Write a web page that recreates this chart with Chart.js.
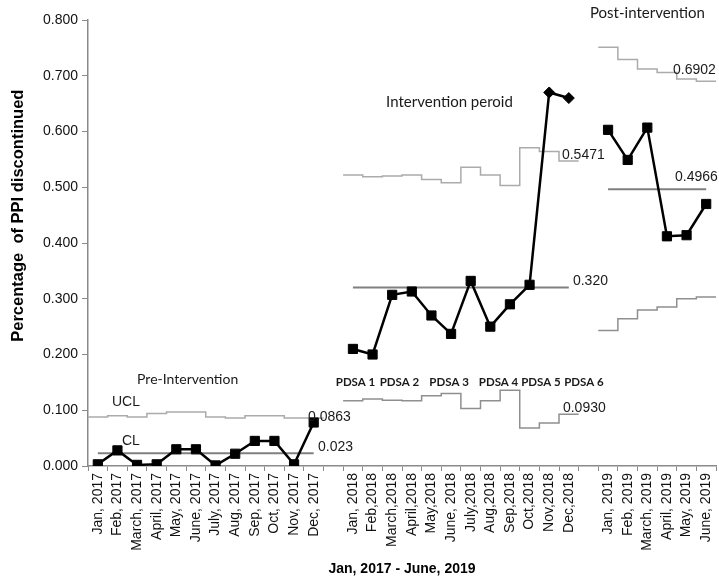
<!DOCTYPE html>
<html>
<head>
<meta charset="utf-8">
<script src="https://cdn.jsdelivr.net/npm/chart.js@4"></script>
<style>
  body { margin: 0; background: #fff; }
  #wrap { width: 719px; height: 583px; }
</style>
</head>
<body>
<div id="wrap"><canvas id="ppiChart" width="719" height="583"></canvas></div>
<script>
// categories
const months2017 = ['Jan, 2017', 'Feb, 2017', 'March, 2017', 'April, 2017', 'May, 2017', 'June, 2017',
  'July, 2017', 'Aug, 2017', 'Sep, 2017', 'Oct, 2017', 'Nov, 2017', 'Dec, 2017'];
const months2018 = ['Jan, 2018', 'Feb,2018', 'March,2018', 'April,2018', 'May,2018', 'June, 2018',
  'July,2018', 'Aug,2018', 'Sep,2018', 'Oct,2018', 'Nov,2018', 'Dec,2018'];
const months2019 = ['Jan, 2019', 'Feb, 2019', 'March, 2019', 'April, 2019', 'May, 2019', 'June, 2019'];

// proportion of PPI discontinued
const prePct = [0.003, 0.028, 0.002, 0.003, 0.030, 0.030, 0.001, 0.022, 0.045, 0.045, 0.003, 0.078];
const intPct = [0.210, 0.200, 0.307, 0.313, 0.270, 0.237, 0.332, 0.250, 0.290, 0.325, 0.670, 0.660];
const postPct = [0.603, 0.549, 0.607, 0.412, 0.414, 0.470];

// control limits
const preUCL = [0.088, 0.090, 0.088, 0.094, 0.097, 0.097, 0.088, 0.086, 0.090, 0.090, 0.086, 0.0863];
const intUCL = [0.522, 0.519, 0.520, 0.522, 0.514, 0.508, 0.536, 0.522, 0.503, 0.571, 0.564, 0.5471];
const intLCL = [0.117, 0.120, 0.118, 0.117, 0.126, 0.130, 0.103, 0.117, 0.136, 0.068, 0.077, 0.0930];
const postUCL = [0.751, 0.729, 0.712, 0.706, 0.694, 0.6902];
const postLCL = [0.243, 0.264, 0.280, 0.285, 0.300, 0.303];
const preCL = 0.023;
const intCL = 0.320;
const postCL = 0.4966;

const yTicks = [0, 0.1, 0.2, 0.3, 0.4, 0.5, 0.6, 0.7, 0.8];

const labels = [...months2017, '', ...months2018, '', ...months2019];
const intStart = months2017.length + 1;
const postStart = intStart + months2018.length + 1;

const pct = [...prePct, null, ...intPct, null, ...postPct];
const diamonds = ['Nov,2018', 'Dec,2018'];
const ptStyle = labels.map(l => diamonds.includes(l) ? 'rectRot' : 'rect');
const ptRadius = labels.map(l => diamonds.includes(l) ? 5.5 : 6.5);

function clLine(start, n, v) {
  return labels.map((_, i) => (i >= start && i < start + n) ? v : null);
}

// each limit value covers its whole month slot
function stepPoints(start, vals) {
  const pts = vals.map((v, k) => ({ x: start + k - 0.5, y: v }));
  pts.push({ x: start + vals.length - 0.5, y: vals[vals.length - 1] });
  return pts;
}

const sans = '"Liberation Sans", Arial, sans-serif';
const calib = 'Lato, "Open Sans", sans-serif';

const notes = [
  { t: 'Pre-Intervention', x: 2.0, y: 0.155, font: '14px ' + calib },
  { t: 'UCL', x: 0.72, y: 0.114, font: '14px ' + sans },
  { t: 'CL', x: 1.23, y: 0.044, font: '14px ' + sans },
  { t: '0.0863', x: 10.71, y: 0.087, font: '14px ' + sans },
  { t: '0.023', x: 11.22, y: 0.0335, font: '14px ' + sans },
  { t: 'PDSA 1', x: 13.13, y: 0.150, font: 'bold 11.5px ' + calib, align: 'center' },
  { t: 'PDSA 2', x: 15.37, y: 0.150, font: 'bold 11.5px ' + calib, align: 'center' },
  { t: 'PDSA 3', x: 17.90, y: 0.150, font: 'bold 11.5px ' + calib, align: 'center' },
  { t: 'PDSA 4', x: 20.42, y: 0.150, font: 'bold 11.5px ' + calib, align: 'center' },
  { t: 'PDSA 5', x: 22.58, y: 0.150, font: 'bold 11.5px ' + calib, align: 'center' },
  { t: 'PDSA 6', x: 24.77, y: 0.150, font: 'bold 11.5px ' + calib, align: 'center' },
  { t: '0.0930', x: 23.70, y: 0.103, font: '14px ' + sans },
  { t: '0.320', x: 24.21, y: 0.331, font: '14px ' + sans },
  { t: '0.5471', x: 23.65, y: 0.558, font: '14px ' + sans },
  { t: 'Intervention peroid', x: 14.69, y: 0.653, font: '15px ' + calib },
  { t: 'Post-intervention', x: 25.08, y: 0.812, font: '15px ' + calib },
  { t: '0.6902', x: 29.31, y: 0.710, font: '14px ' + sans },
  { t: '0.4966', x: 29.41, y: 0.519, font: '14px ' + sans }
];

const notesPlugin = {
  id: 'notes',
  afterDraw(chart) {
    const { ctx } = chart;
    const xs = chart.scales.xs;
    const y = chart.scales.y;
    ctx.save();
    ctx.fillStyle = '#1a1a1a';
    ctx.textBaseline = 'middle';
    notes.forEach(n => {
      ctx.font = n.font;
      ctx.textAlign = n.align || 'left';
      ctx.fillText(n.t, xs.getPixelForValue(n.x), y.getPixelForValue(n.y));
    });
    // y axis title
    ctx.translate(18, y.getPixelForValue(0.449));
    ctx.rotate(-Math.PI / 2);
    ctx.textAlign = 'center';
    ctx.font = 'bold 16.5px ' + sans;
    ctx.fillStyle = '#000';
    ctx.fillText('Percentage  of PPI discontinued', 0, 0);
    ctx.restore();
  }
};

const ucl = { borderColor: '#ababab', borderWidth: 1.5, pointRadius: 0, stepped: 'before', xAxisID: 'xs', fill: false };
const lcl = { borderColor: '#8f8f8f', borderWidth: 1.5, pointRadius: 0, stepped: 'before', xAxisID: 'xs', fill: false };
const cl = { borderColor: '#808080', borderWidth: 2, pointRadius: 0, fill: false };

new Chart(document.getElementById('ppiChart'), {
  type: 'line',
  data: {
    labels,
    datasets: [
      {
        label: 'PPI discontinued', data: pct, borderColor: '#000', borderWidth: 2.5,
        pointStyle: ptStyle, pointRadius: ptRadius, pointBackgroundColor: '#000',
        pointBorderColor: '#000', pointBorderWidth: 1, spanGaps: false
      },
      { label: 'CL pre', data: clLine(0, prePct.length, preCL), ...cl },
      { label: 'CL int', data: clLine(intStart, intPct.length, intCL), ...cl },
      { label: 'CL post', data: clLine(postStart, postPct.length, postCL), ...cl },
      { label: 'UCL pre', data: stepPoints(0, preUCL), ...ucl },
      { label: 'UCL int', data: stepPoints(intStart, intUCL), ...ucl },
      { label: 'LCL int', data: stepPoints(intStart, intLCL), ...lcl },
      { label: 'UCL post', data: stepPoints(postStart, postUCL), ...ucl },
      { label: 'LCL post', data: stepPoints(postStart, postLCL), ...lcl }
    ]
  },
  options: {
    responsive: false,
    animation: false,
    layout: { padding: { top: 20, right: 3, left: 0, bottom: 0 } },
    plugins: { legend: { display: false }, tooltip: { enabled: false } },
    scales: {
      x: {
        type: 'category',
        offset: true,
        grid: { offset: true, drawOnChartArea: false, tickLength: 5, color: '#8a8a8a' },
        border: { color: '#8a8a8a', width: 1.5 },
        ticks: {
          autoSkip: false, minRotation: 90, maxRotation: 90, padding: 2,
          color: '#111', font: { family: sans, size: 14 }
        },
        title: {
          display: true, text: 'Jan, 2017 - June, 2019', color: '#000',
          font: { family: sans, size: 14, weight: 'bold' }, padding: { top: 0, bottom: 5 }
        },
        afterFit(s) { s.height = 117; s.paddingLeft = 0; s.paddingRight = 0; },
        afterUpdate(s) { s.paddingLeft = 0; s.paddingRight = 0; }
      },
      xs: {
        type: 'linear', display: false, min: -0.5, max: labels.length - 0.5
      },
      y: {
        min: 0, max: 0.8,
        afterBuildTicks(s) { s.ticks = yTicks.map(v => ({ value: v })); },
        grid: { drawOnChartArea: false, tickLength: 6, color: '#8a8a8a' },
        border: { color: '#8a8a8a', width: 1.5 },
        ticks: {
          padding: 4, color: '#111', font: { family: sans, size: 14 },
          callback: v => v.toFixed(3)
        },
        afterFit(s) { s.width = 88; s.paddingTop = 0; s.paddingBottom = 0; }
      }
    }
  },
  plugins: [notesPlugin, {
    id: 'areaFix',
    // keep the plot box flush with the right edge like the source figure
    afterLayout(chart) {
      const right = chart.width - chart.options.layout.padding.right;
      if (chart.chartArea.right !== right) {
        chart.chartArea.right = right;
        chart.chartArea.width = right - chart.chartArea.left;
        ['x', 'xs'].forEach(id => {
          const s = chart.scales[id];
          s.right = right;
          s.width = right - s.left;
          s.configure();
        });
      }
    }
  }]
});
</script>
</body>
</html>
